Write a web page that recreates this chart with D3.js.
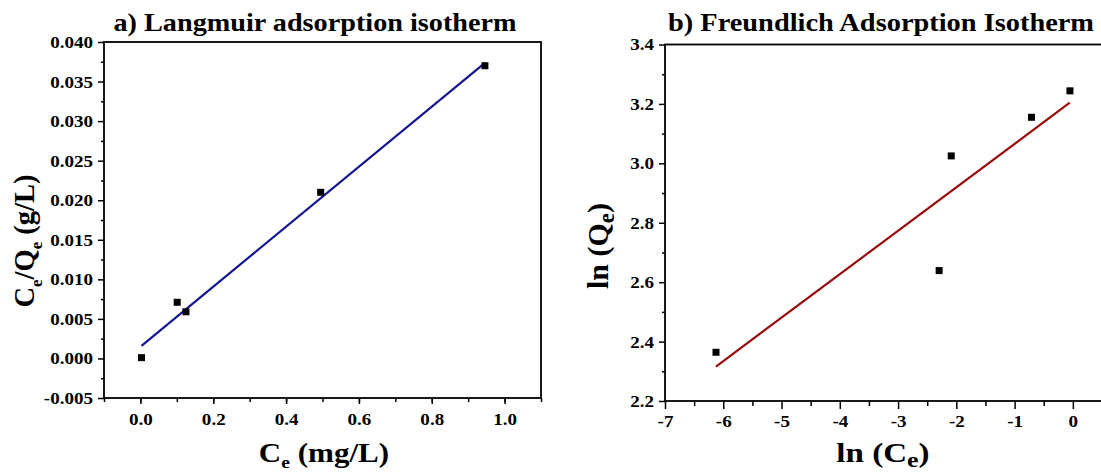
<!DOCTYPE html>
<html>
<head>
<meta charset="utf-8">
<script src="https://cdn.jsdelivr.net/npm/d3@7"></script>
<style>
    body { margin: 0; background: #fff; }
    svg { display: block; font-family: "Liberation Serif", "Times New Roman", serif; }
</style>
</head>
<body>
<div class="container"></div>
<script>
// a) Langmuir: Ce vs Ce/Qe
const langCe = [0.003, 0.101, 0.125, 0.495, 0.946];
const langCeQe = [0.0001, 0.0071, 0.0059, 0.0210, 0.0370];
const langFitX = [0.003, 0.947];
const langFitY = [0.0016, 0.0374];
const langXTicks = [0, 0.2, 0.4, 0.6, 0.8, 1.0];
const langYTicks = [-0.005, 0, 0.005, 0.010, 0.015, 0.020, 0.025, 0.030, 0.035, 0.040];

// b) Freundlich: ln(Ce) vs ln(Qe)
const freLnCe = [-6.125, -2.295, -2.087, -0.71, -0.05];
const freLnQe = [2.364, 2.639, 3.025, 3.155, 3.244];
const freFitX = [-6.125, -0.053];
const freFitY = [2.316, 3.204];
const freXTicks = [-7, -6, -5, -4, -3, -2, -1, 0];
const freYTicks = [2.2, 2.4, 2.6, 2.8, 3.0, 3.2, 3.4];

const w = 1101;
const h = 474;

const svg = d3.select('.container')
    .append('svg')
    .attr('width', w)
    .attr('height', h);

// the source picture is a bit wider than tall, so text looks stretched sideways
function stretch(sel, k) {
    sel.each(function () {
        const n = this.getComputedTextLength();
        d3.select(this).attr('textLength', n * k).attr('lengthAdjust', 'spacingAndGlyphs');
    });
}

function drawPanel(p) {
    const x = d3.scaleLinear(p.xDomain, [p.left, p.right]);
    const y = d3.scaleLinear(p.yDomain, [p.bottom, p.top]);
    const g = svg.append('g');

    // minor ticks first, majors on top
    g.append('g')
        .attr('transform', `translate(0,${p.bottom})`)
        .call(d3.axisBottom(x).tickValues(p.xMinor).tickSize(p.xMinorLen).tickFormat(''))
        .call(a => a.select('.domain').remove());
    g.append('g')
        .attr('transform', `translate(${p.left},0)`)
        .call(d3.axisLeft(y).tickValues(p.yMinor).tickSize(3).tickFormat(''))
        .call(a => a.select('.domain').remove());

    const xAxis = g.append('g')
        .attr('transform', `translate(0,${p.bottom})`)
        .call(d3.axisBottom(x).tickValues(p.xTicks).tickSize(p.xMajorLen).tickPadding(p.xPad).tickFormat(p.xFmt));
    xAxis.select('.domain').remove();

    const yAxis = g.append('g')
        .attr('transform', `translate(${p.left},0)`)
        .call(d3.axisLeft(y).tickValues(p.yTicks).tickSize(6).tickPadding(5).tickFormat(p.yFmt));
    yAxis.select('.domain').remove();

    g.selectAll('.tick line').attr('stroke', '#000').attr('stroke-width', 1.5);
    g.selectAll('.tick text')
        .attr('fill', '#000')
        .style('font-family', '"Liberation Serif", serif')
        .style('font-size', '17px')
        .style('font-weight', 'bold')
        .call(stretch, 1.12);

    // frame
    g.append('rect')
        .attr('x', p.left)
        .attr('y', p.top)
        .attr('width', p.right - p.left)
        .attr('height', p.bottom - p.top)
        .attr('fill', 'none')
        .attr('stroke', '#000')
        .attr('stroke-width', 1.8);

    // fitted line
    const fit = p.fitX.map((v, i) => [v, p.fitY[i]]);
    g.append('path')
        .datum(fit)
        .attr('fill', 'none')
        .attr('stroke', p.lineColor)
        .attr('stroke-width', 2.2)
        .attr('d', d3.line().x(d => x(d[0])).y(d => y(d[1])));

    // data points
    const pts = p.xs.map((v, i) => [v, p.ys[i]]);
    g.selectAll('rect.pt')
        .data(pts)
        .join('rect')
        .attr('class', 'pt')
        .attr('x', d => x(d[0]) - 3.5)
        .attr('y', d => y(d[1]) - 3.5)
        .attr('width', 7)
        .attr('height', 7)
        .attr('fill', '#000');

    // title
    g.append('text')
        .attr('x', p.titleX)
        .attr('y', 31)
        .attr('text-anchor', 'middle')
        .attr('textLength', p.titleLen)
        .attr('lengthAdjust', 'spacingAndGlyphs')
        .style('font-size', '25px')
        .style('font-weight', 'bold')
        .text(p.title);

    return g;
}

const lang = drawPanel({
    left: 104, right: 541, top: 42, bottom: 398,
    xDomain: [-0.1, 1.1], yDomain: [-0.005, 0.040],
    xTicks: langXTicks, yTicks: langYTicks,
    xMinor: d3.range(-0.1, 1.1001, 0.1).map(v => +v.toFixed(2)),
    yMinor: d3.range(-0.0025, 0.0401, 0.005).map(v => +v.toFixed(4)),
    xMajorLen: 6, xMinorLen: 4, xPad: 9,
    xFmt: d => d.toFixed(1), yFmt: d => d.toFixed(3),
    fitX: langFitX, fitY: langFitY, xs: langCe, ys: langCeQe,
    lineColor: '#141496',
    title: 'a) Langmuir adsorption isotherm', titleX: 315, titleLen: 403
});

const fre = drawPanel({
    left: 665, right: 1102, top: 44.5, bottom: 401,
    xDomain: [-7, 0.5], yDomain: [2.2, 3.4],
    xTicks: freXTicks, yTicks: freYTicks,
    xMinor: d3.range(-6.5, 0.51, 1),
    yMinor: d3.range(2.3, 3.41, 0.2).map(v => +v.toFixed(1)),
    xMajorLen: 8, xMinorLen: 5, xPad: 6,
    xFmt: d => d.toFixed(0), yFmt: d => d.toFixed(1),
    fitX: freFitX, fitY: freFitY, xs: freLnCe, ys: freLnQe,
    lineColor: '#9b0a0a',
    title: 'b) Freundlich Adsorption Isotherm', titleX: 881, titleLen: 426
});

// axis labels
const labelStyle = (s, size) => s.style('font-size', size + 'px').style('font-weight', 'bold').attr('fill', '#000');

svg.append('text')
    .attr('x', 324)
    .attr('y', 462)
    .attr('text-anchor', 'middle')
    .call(labelStyle, 27)
    .call(t => {
        t.append('tspan').text('C');
        t.append('tspan').attr('dy', 6).style('font-size', '17px').text('e');
        t.append('tspan').attr('dy', -6).text(' (mg/L)');
    })
    .call(stretch, 1.15);

svg.append('text')
    .attr('transform', 'translate(34,241) rotate(-90)')
    .attr('text-anchor', 'middle')
    .call(labelStyle, 28.5)
    .call(t => {
        t.append('tspan').text('C');
        t.append('tspan').attr('dy', 8).style('font-size', '17px').text('e');
        t.append('tspan').attr('dy', -8).text('/Q');
        t.append('tspan').attr('dy', 8).style('font-size', '17px').text('e');
        t.append('tspan').attr('dy', -8).text(' (g/L)');
    });

svg.append('text')
    .attr('x', 883)
    .attr('y', 462)
    .attr('text-anchor', 'middle')
    .call(labelStyle, 28)
    .call(t => {
        t.append('tspan').text('ln (C');
        t.append('tspan').attr('dy', 5).style('font-size', '22px').text('e');
        t.append('tspan').attr('dy', -5).text(')');
    })
    .call(stretch, 1.18);

svg.append('text')
    .attr('transform', 'translate(608,246) rotate(-90)')
    .attr('text-anchor', 'middle')
    .call(labelStyle, 30)
    .call(t => {
        t.append('tspan').text('ln (Q');
        t.append('tspan').attr('dy', 6).style('font-size', '23px').text('e');
        t.append('tspan').attr('dy', -6).text(')');
    });
</script>
</body>
</html>
